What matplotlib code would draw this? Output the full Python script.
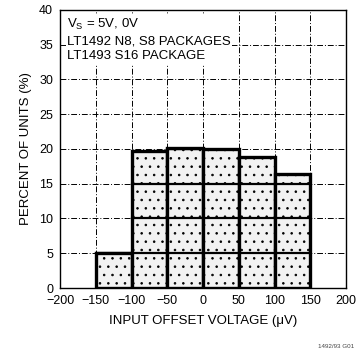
import matplotlib
matplotlib.use("Agg")
import matplotlib.pyplot as plt
import numpy as np

plt.rcParams['font.family'] = ['Liberation Sans Narrow', 'Liberation Sans', 'DejaVu Sans']
plt.rcParams['hatch.color'] = '#888888'
plt.rcParams['hatch.linewidth'] = 0.6

bin_left = [-150, -100, -50, 0, 50, 100]
bin_width = 50
percent = [5.1, 19.7, 20.1, 20.0, 18.8, 16.4]

x_ticks = [-200, -150, -100, -50, 0, 50, 100, 150, 200]
x_tick_labels = ['\u2212200', '\u2212150', '\u2212100', '\u221250', '0', '50', '100', '150', '200']
y_ticks = [0, 5, 10, 15, 20, 25, 30, 35, 40]

fig = plt.figure(figsize=(3.6, 3.56), dpi=100)
ax = fig.add_axes([0.167, 0.191, 0.794, 0.781])

ax.set_xlim(-200, 200)
ax.set_ylim(0, 40)

# background grid (dashed, thin)
for xv in x_ticks[1:-1]:
    ax.axvline(xv, color='black', lw=0.7, ls=(0, (6, 2, 1, 2)), zorder=1)
for yv in y_ticks[1:-1]:
    ax.axhline(yv, color='black', lw=0.7, ls=(0, (6, 2, 1, 2)), zorder=1)

# bars
ax.bar(bin_left, percent, width=bin_width, align='edge',
       color='#f2f2f2', edgecolor='black', linewidth=2.4, hatch='..', zorder=2)

# grid lines inside bars drawn heavier
for xl, p in zip(bin_left, percent):
    for yv in y_ticks[1:-1]:
        if yv < p:
            ax.plot([xl, xl + bin_width], [yv, yv], color='black', lw=1.6, zorder=3)
    for xv in x_ticks:
        if xl < xv < xl + bin_width:
            ax.plot([xv, xv], [0, p], color='black', lw=1.6, zorder=3)

ax.set_xticks(x_ticks)
ax.set_xticklabels(x_tick_labels)
ax.set_yticks(y_ticks)
ax.tick_params(length=0, labelsize=9, pad=5)
for s in ax.spines.values():
    s.set_linewidth(1.0)

ax.set_xlabel('INPUT OFFSET VOLTAGE (\u03bcV)', fontsize=9.5, labelpad=6)
ax.set_ylabel('PERCENT OF UNITS (%)', fontsize=9.5, labelpad=5)

txt = '$\\mathregular{V_S}$ = 5V, 0V\nLT1492 N8, S8 PACKAGES\nLT1493 S16 PACKAGE'
ax.text(-190, 39.0, txt, fontsize=9.5, va='top', ha='left', linespacing=1.35,
        bbox=dict(facecolor='white', edgecolor='none', pad=1), zorder=5)

fig.text(0.985, 0.02, '1492/93 G01', fontsize=4.5, ha='right', va='bottom', color='#444444')

fig.savefig('out.png', dpi=100)
